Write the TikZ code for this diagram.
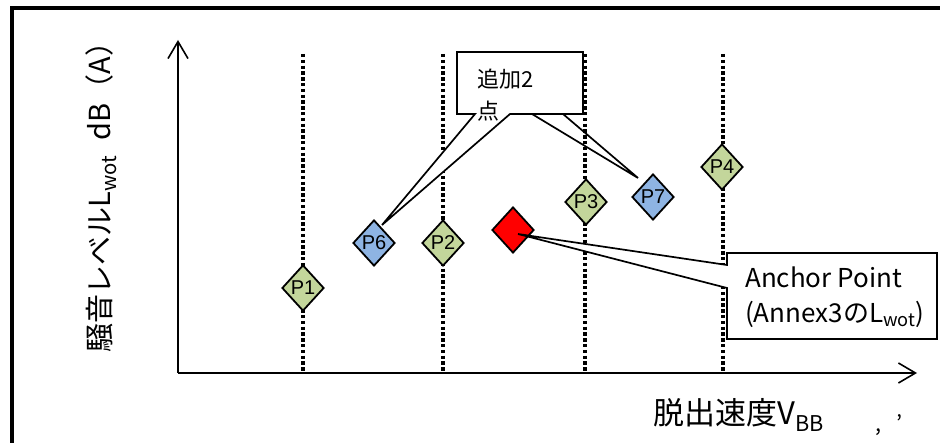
\documentclass[tikz,border=0pt]{standalone}
\usepackage{fontspec}
\setmainfont{Noto Sans CJK JP}
\newfontfamily\latinfont{Liberation Sans}
\usepackage{tikz}
\usetikzlibrary{shapes.geometric,arrows.meta}

\definecolor{ptgreen}{RGB}{195,214,155}
\definecolor{ptblue}{RGB}{142,180,227}

\tikzset{
	pt/.style={diamond,draw,line width=1.8pt,minimum width=42pt,minimum height=46pt,inner sep=0pt,font=\latinfont\fontsize{20}{20}\selectfont},
	ptg/.style={pt,fill=ptgreen},
	ptb/.style={pt,fill=ptblue},
	vline/.style={line width=3.6pt,dash pattern=on 3.4pt off 2.4pt},
	axis/.style={line width=1.6pt,-{Straight Barb[length=17pt,width=20pt]}},
	callout/.style={draw,fill=white,line width=1.7pt}
}

\begin{document}
\begin{tikzpicture}[x=1pt,y=-1pt]
	\useasboundingbox (0,0) rectangle (940,443);
	\draw[line width=4pt] (950,8) -- (12,8) -- (12,450);

	\coordinate				(o)		at (178,373);
	\coordinate				(ytop)	at (178,40);
	\coordinate				(xend)	at (917,373);
	\coordinate				(t6)	at (382,225);
	\coordinate				(t7)	at (638,178);
	\coordinate				(ta)	at (518,234);

	% callout to P7 sits under the grid lines
	\filldraw[callout] (457,52) -- (583,52) -- (583,114) -- (563,114) -- (t7) -- (532,114) -- (457,114) -- cycle;

	\foreach \x in {303,443,585,723}
		\draw[vline] (\x,54) -- (\x,373);
	\draw[axis] (o) -- (ytop);
	\draw[axis] (o) -- (xend);

	\node[ptg]				(p1)	at (303,288)	{P1};
	\node[ptb]				(p6)	at (374,243)	{P6};
	\node[ptg]				(p2)	at (443,243)	{P2};
	\node[pt,fill=red]		(ap)	at (513,230)	{};
	\node[ptg]				(p3)	at (586,202)	{P3};
	\node[ptb]				(p7)	at (653,197)	{P7};
	\node[ptg]				(p4)	at (722,167)	{P4};

	\filldraw[callout] (457,52) -- (583,52) -- (583,114) -- (510,114) -- (t6) -- (475,114) -- (457,114) -- cycle;
	\filldraw[callout] (727,253) -- (937,253) -- (937,339) -- (727,339) -- (727,288) -- (ta) -- (727,265) -- cycle;

	\node[anchor=north west,inner sep=0pt,align=left,font=\fontsize{22}{32}\selectfont]	(addtxt)	at (477,69)		{追加2\\点};
	\node[anchor=north west,inner sep=0pt,align=left,font=\fontsize{26}{35}\selectfont]	(anctxt)	at (745,267)	{Anchor Point\\(Annex3のL\textsubscript{wot})};

	\node[rotate=90,inner sep=0pt,font=\fontsize{29}{29}\selectfont]	(ylab)	at (101,190)	{騒音レベルL\textsubscript{wot}\hspace{0.5em}dB（A）};
	\node[anchor=west,inner sep=0pt,font=\fontsize{31}{31}\selectfont]	(xlab)	at (653,417)	{脱出速度V\raisebox{2pt}{\textsubscript{BB\hspace{2.4em},\hspace{0.7em}’}}};
\end{tikzpicture}
\end{document}
